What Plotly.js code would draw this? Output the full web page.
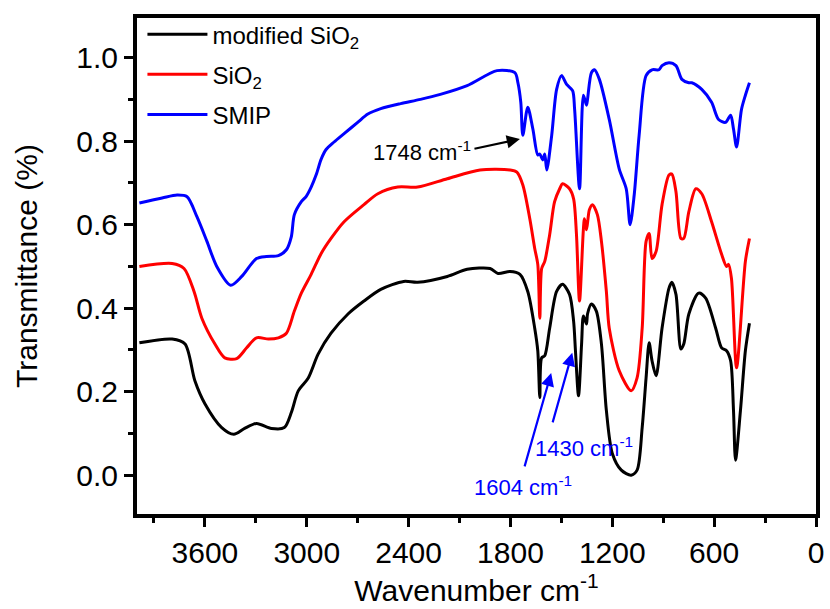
<!DOCTYPE html>
<html>
<head>
<meta charset="utf-8">
<script src="https://cdn.plot.ly/plotly-3.0.1.min.js"></script>
<style>
html,body{margin:0;padding:0;background:#fff;}
#chart{width:830px;height:609px;}
</style>
</head>
<body>
<div id="chart"></div>
<script>
// Series names
const seriesNames = ["modified SiO<sub>2</sub>", "SiO<sub>2</sub>", "SMIP"];

// modified SiO2 (black)
const modWn = [3986,3793,3717,3659,3600,3501,3430,3366,3296,3208,3132,3091,3050,2991,2933,2857,2757,2663,2564,2429,2347,2172,2055,1920,1873,1803,1744,1698,1657,1639,1627,1616,1598,1569,1528,1493,1452,1428,1417,1399,1381,1370,1352,1346,1323,1294,1264,1235,1200,1147,1089,1054,1024,1001,983,966,942,907,866,849,825,796,779,749,691,650,591,556,527,503,486,474,445,416,392];
const modT = [0.317,0.326,0.314,0.226,0.171,0.114,0.098,0.112,0.124,0.112,0.114,0.150,0.202,0.233,0.290,0.340,0.386,0.417,0.445,0.464,0.462,0.476,0.493,0.495,0.483,0.488,0.481,0.440,0.352,0.298,0.186,0.281,0.286,0.352,0.440,0.457,0.433,0.369,0.298,0.190,0.314,0.381,0.362,0.386,0.410,0.393,0.314,0.155,0.052,0.012,0.000,0.012,0.114,0.233,0.317,0.274,0.238,0.352,0.448,0.462,0.433,0.302,0.314,0.386,0.436,0.424,0.352,0.305,0.298,0.274,0.155,0.036,0.155,0.298,0.364];

// SiO2 (red)
const sio2Wn = [3986,3793,3723,3664,3618,3541,3483,3413,3354,3296,3225,3167,3120,3073,3032,2974,2915,2857,2780,2663,2581,2464,2347,2172,1979,1803,1762,1727,1686,1657,1639,1627,1616,1598,1569,1540,1510,1493,1452,1428,1411,1393,1364,1352,1335,1317,1288,1264,1235,1218,1159,1089,1054,1024,1001,983,966,942,907,866,849,825,796,779,749,708,673,615,556,527,515,498,468,416,392];
const sio2T = [0.500,0.507,0.495,0.440,0.376,0.314,0.281,0.279,0.305,0.329,0.326,0.329,0.340,0.393,0.436,0.481,0.531,0.567,0.607,0.648,0.674,0.690,0.690,0.710,0.731,0.731,0.726,0.695,0.614,0.543,0.505,0.376,0.495,0.512,0.576,0.655,0.686,0.698,0.686,0.662,0.576,0.417,0.614,0.588,0.636,0.648,0.624,0.560,0.440,0.352,0.250,0.202,0.233,0.352,0.560,0.579,0.519,0.536,0.648,0.719,0.721,0.679,0.567,0.567,0.631,0.686,0.674,0.607,0.529,0.500,0.505,0.471,0.257,0.512,0.567];

// SMIP (blue)
const smipWn = [3986,3852,3764,3705,3647,3588,3530,3448,3383,3296,3237,3167,3120,3091,3073,3032,3003,2974,2944,2915,2886,2839,2780,2700,2640,2564,2447,2330,2213,2055,1879,1774,1756,1739,1727,1698,1668,1639,1627,1610,1598,1586,1557,1528,1499,1469,1434,1422,1393,1370,1352,1346,1323,1305,1276,1218,1159,1118,1095,1071,1042,1001,966,925,907,866,825,790,749,732,673,615,574,533,503,486,468,439,416,392];
const smipT = [0.652,0.664,0.671,0.667,0.619,0.560,0.500,0.455,0.476,0.519,0.524,0.526,0.540,0.571,0.624,0.655,0.668,0.690,0.720,0.757,0.780,0.798,0.818,0.845,0.865,0.878,0.890,0.900,0.912,0.933,0.969,0.964,0.940,0.893,0.814,0.881,0.829,0.767,0.769,0.755,0.769,0.731,0.814,0.924,0.957,0.936,0.921,0.876,0.686,0.910,0.886,0.900,0.964,0.971,0.948,0.852,0.733,0.686,0.600,0.671,0.814,0.957,0.971,0.971,0.981,0.988,0.981,0.948,0.940,0.940,0.924,0.893,0.852,0.845,0.862,0.829,0.786,0.876,0.910,0.940];

// Tick labels
const xTicks = [3600, 3000, 2400, 1800, 1200, 600, 0];
const yTicks = [0.0, 0.2, 0.4, 0.6, 0.8, 1.0];

// Peak annotations
const peakLabels = ["1748 cm<sup>-1</sup>", "1604 cm<sup>-1</sup>", "1430 cm<sup>-1</sup>"];

const FONT = "Arial, 'Liberation Sans', sans-serif";
const lineStyle = (c) => ({color: c, width: 3, shape: 'spline', smoothing: 0.8});

const traces = [
  {x: modWn, y: modT, name: seriesNames[0], mode: 'lines', line: lineStyle('#000000'), legendgroup: 'a'},
  {x: sio2Wn, y: sio2T, name: seriesNames[1], mode: 'lines', line: lineStyle('#ff0000'), legendgroup: 'b'},
  {x: smipWn, y: smipT, name: seriesNames[2], mode: 'lines', line: lineStyle('#0000ff'), legendgroup: 'c'}
];

const axisCommon = {
  showline: true, linewidth: 4, linecolor: '#000', mirror: true,
  ticks: 'outside', ticklen: 9, tickwidth: 3, tickcolor: '#000',
  showgrid: false, zeroline: false,
  tickfont: {family: FONT, size: 30, color: '#000'}
};

const layout = {
  width: 830, height: 609,
  margin: {l: 137, r: 14, t: 15, b: 95},
  paper_bgcolor: '#fff', plot_bgcolor: '#fff',
  font: {family: FONT, color: '#000'},
  showlegend: true,
  legend: {
    x: 0.008, y: 1.012, xanchor: 'left', yanchor: 'top',
    bgcolor: 'rgba(0,0,0,0)', borderwidth: 0,
    font: {family: FONT, size: 24, color: '#000'},
    itemwidth: 60, tracegroupgap: 6, traceorder: 'grouped'
  },
  xaxis: Object.assign({}, axisCommon, {
    range: [4000, 0], tickvals: xTicks, ticktext: xTicks.map(String),
    minor: {dtick: 300, ticks: 'outside', ticklen: 5, tickwidth: 3, tickcolor: '#000', tick0: 0},
    title: {text: 'Wavenumber cm<sup>-1</sup>', font: {family: FONT, size: 30, color: '#000'}, standoff: 8}
  }),
  yaxis: Object.assign({}, axisCommon, {
    range: [-0.093, 1.095], tickvals: yTicks, ticktext: yTicks.map(v => v.toFixed(1)),
    minor: {dtick: 0.1, ticks: 'outside', ticklen: 5, tickwidth: 3, tickcolor: '#000', tick0: 0},
    title: {text: 'Transmittance (%)', font: {family: FONT, size: 30, color: '#000'}, standoff: 31}
  }),
  annotations: [
    {x: 1744, y: 0.805, xref: 'x', yref: 'y', text: '', showarrow: true, ax: -47, ay: 10,
     arrowhead: 2, arrowsize: 1.2, arrowwidth: 2.2, arrowcolor: '#000', standoff: 0, startstandoff: 0},
    {x: 2623, y: 0.776, xref: 'x', yref: 'y', text: peakLabels[0], showarrow: false,
     xanchor: 'left', yanchor: 'middle', font: {family: FONT, size: 22, color: '#000'}},
    {x: 1560, y: 0.245, xref: 'x', yref: 'y', text: '', showarrow: true, ax: -27, ay: 95,
     arrowhead: 2, arrowsize: 1.2, arrowwidth: 2.2, arrowcolor: '#0000ff', standoff: 0},
    {x: 1436, y: 0.293, xref: 'x', yref: 'y', text: '', showarrow: true, ax: -20, ay: 71,
     arrowhead: 2, arrowsize: 1.2, arrowwidth: 2.2, arrowcolor: '#0000ff', standoff: 0},
    {x: 2025, y: -0.026, xref: 'x', yref: 'y', text: peakLabels[1], showarrow: false,
     xanchor: 'left', yanchor: 'middle', font: {family: FONT, size: 22, color: '#0000ff'}},
    {x: 1668, y: 0.067, xref: 'x', yref: 'y', text: peakLabels[2], showarrow: false,
     xanchor: 'left', yanchor: 'middle', font: {family: FONT, size: 22, color: '#0000ff'}}
  ]
};

Plotly.newPlot('chart', traces, layout, {displayModeBar: false, staticPlot: true});
</script>
</body>
</html>
